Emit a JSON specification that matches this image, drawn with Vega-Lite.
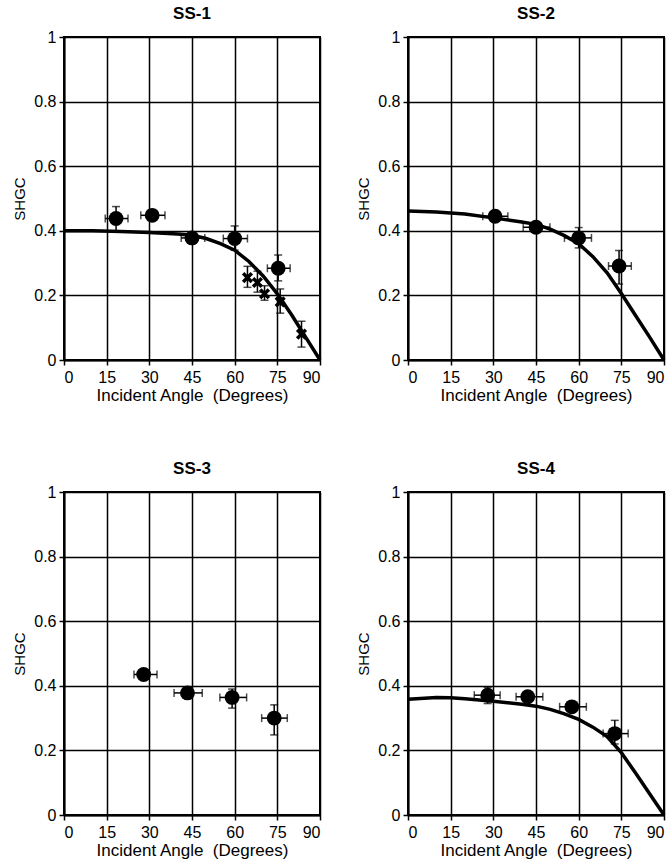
{
  "$schema": "https://vega.github.io/schema/vega-lite/v6.json",
  "background": "white",
  "padding": {"left": 11, "top": 4, "right": 5, "bottom": 5},
  "data": {"values": [
    {"panel":"SS-1","kind":"o","x":18.3,"y":0.438,"xlo":14.5,"xhi":22.5,"ylo":0.40,"yhi":0.475},
    {"panel":"SS-1","kind":"o","x":31,"y":0.448,"xlo":27,"xhi":35.5,"ylo":0.44,"yhi":0.456},
    {"panel":"SS-1","kind":"o","x":45,"y":0.378,"xlo":41.2,"xhi":49.5,"ylo":0.37,"yhi":0.386},
    {"panel":"SS-1","kind":"o","x":60,"y":0.376,"xlo":56,"xhi":64.5,"ylo":0.34,"yhi":0.415},
    {"panel":"SS-1","kind":"o","x":75.3,"y":0.284,"xlo":71.5,"xhi":79.5,"ylo":0.245,"yhi":0.325},
    {"panel":"SS-1","kind":"x","x":64.5,"y":0.255,"ylo":0.225,"yhi":0.29},
    {"panel":"SS-1","kind":"x","x":68,"y":0.24,"ylo":0.21,"yhi":0.275},
    {"panel":"SS-1","kind":"x","x":70.5,"y":0.205,"ylo":0.185,"yhi":0.23},
    {"panel":"SS-1","kind":"x","x":76,"y":0.18,"ylo":0.145,"yhi":0.22},
    {"panel":"SS-1","kind":"x","x":83.5,"y":0.08,"ylo":0.04,"yhi":0.12},
    {"panel":"SS-2","kind":"o","x":30.6,"y":0.445,"xlo":26.3,"xhi":35.1,"ylo":0.435,"yhi":0.455},
    {"panel":"SS-2","kind":"o","x":45,"y":0.411,"xlo":40.5,"xhi":49.9,"ylo":0.40,"yhi":0.425},
    {"panel":"SS-2","kind":"o","x":60,"y":0.378,"xlo":55,"xhi":64.5,"ylo":0.347,"yhi":0.41},
    {"panel":"SS-2","kind":"o","x":74.2,"y":0.291,"xlo":70.5,"xhi":78.5,"ylo":0.235,"yhi":0.339},
    {"panel":"SS-3","kind":"o","x":28,"y":0.435,"xlo":24.6,"xhi":32.7,"ylo":0.425,"yhi":0.445},
    {"panel":"SS-3","kind":"o","x":43.4,"y":0.378,"xlo":38.7,"xhi":48.6,"ylo":0.37,"yhi":0.386},
    {"panel":"SS-3","kind":"o","x":59.1,"y":0.364,"xlo":54.8,"xhi":64.2,"ylo":0.331,"yhi":0.39},
    {"panel":"SS-3","kind":"o","x":73.9,"y":0.30,"xlo":69.5,"xhi":78.5,"ylo":0.248,"yhi":0.341},
    {"panel":"SS-4","kind":"o","x":28,"y":0.371,"xlo":23.3,"xhi":32.4,"ylo":0.345,"yhi":0.395},
    {"panel":"SS-4","kind":"o","x":42.1,"y":0.366,"xlo":38,"xhi":47.4,"ylo":0.355,"yhi":0.377},
    {"panel":"SS-4","kind":"o","x":57.6,"y":0.335,"xlo":53.3,"xhi":62.7,"ylo":0.32,"yhi":0.35},
    {"panel":"SS-4","kind":"o","x":72.7,"y":0.252,"xlo":68.6,"xhi":77.4,"ylo":0.22,"yhi":0.293},
    {"panel":"SS-1","kind":"curve","x":0,"y":0.40},
    {"panel":"SS-1","kind":"curve","x":10,"y":0.40},
    {"panel":"SS-1","kind":"curve","x":20,"y":0.398},
    {"panel":"SS-1","kind":"curve","x":30,"y":0.395},
    {"panel":"SS-1","kind":"curve","x":40,"y":0.39},
    {"panel":"SS-1","kind":"curve","x":45,"y":0.386},
    {"panel":"SS-1","kind":"curve","x":50,"y":0.376},
    {"panel":"SS-1","kind":"curve","x":55,"y":0.36},
    {"panel":"SS-1","kind":"curve","x":60,"y":0.34},
    {"panel":"SS-1","kind":"curve","x":65,"y":0.305},
    {"panel":"SS-1","kind":"curve","x":70,"y":0.26},
    {"panel":"SS-1","kind":"curve","x":75,"y":0.205},
    {"panel":"SS-1","kind":"curve","x":80,"y":0.14},
    {"panel":"SS-1","kind":"curve","x":85,"y":0.07},
    {"panel":"SS-1","kind":"curve","x":90,"y":0},
    {"panel":"SS-2","kind":"curve","x":0,"y":0.461},
    {"panel":"SS-2","kind":"curve","x":10,"y":0.458},
    {"panel":"SS-2","kind":"curve","x":15,"y":0.455},
    {"panel":"SS-2","kind":"curve","x":20,"y":0.452},
    {"panel":"SS-2","kind":"curve","x":30,"y":0.44},
    {"panel":"SS-2","kind":"curve","x":40,"y":0.427},
    {"panel":"SS-2","kind":"curve","x":45,"y":0.42},
    {"panel":"SS-2","kind":"curve","x":50,"y":0.405},
    {"panel":"SS-2","kind":"curve","x":55,"y":0.385},
    {"panel":"SS-2","kind":"curve","x":60,"y":0.36},
    {"panel":"SS-2","kind":"curve","x":65,"y":0.32},
    {"panel":"SS-2","kind":"curve","x":70,"y":0.27},
    {"panel":"SS-2","kind":"curve","x":75,"y":0.206},
    {"panel":"SS-2","kind":"curve","x":80,"y":0.138},
    {"panel":"SS-2","kind":"curve","x":85,"y":0.07},
    {"panel":"SS-2","kind":"curve","x":90,"y":0},
    {"panel":"SS-4","kind":"curve","x":0,"y":0.358},
    {"panel":"SS-4","kind":"curve","x":10,"y":0.364},
    {"panel":"SS-4","kind":"curve","x":15,"y":0.363},
    {"panel":"SS-4","kind":"curve","x":20,"y":0.36},
    {"panel":"SS-4","kind":"curve","x":30,"y":0.352},
    {"panel":"SS-4","kind":"curve","x":40,"y":0.343},
    {"panel":"SS-4","kind":"curve","x":45,"y":0.337},
    {"panel":"SS-4","kind":"curve","x":50,"y":0.327},
    {"panel":"SS-4","kind":"curve","x":55,"y":0.313},
    {"panel":"SS-4","kind":"curve","x":60,"y":0.296},
    {"panel":"SS-4","kind":"curve","x":65,"y":0.272},
    {"panel":"SS-4","kind":"curve","x":70,"y":0.243},
    {"panel":"SS-4","kind":"curve","x":75,"y":0.193},
    {"panel":"SS-4","kind":"curve","x":80,"y":0.13},
    {"panel":"SS-4","kind":"curve","x":85,"y":0.065},
    {"panel":"SS-4","kind":"curve","x":90,"y":0}
  ]},
  "facet": {"field": "panel", "type": "nominal", "title": null,
    "header": {"labelFont": "Liberation Sans", "labelFontSize": 17, "labelFontWeight": "bold", "labelColor": "black", "labelPadding": 6, "title": null}},
  "columns": 2,
  "spacing": {"row": 55, "column": 27},
  "resolve": {"axis": {"x": "independent", "y": "independent"}},
  "spec": {
    "width": 256,
    "height": 323,
    "layer": [
      {
        "transform": [{"filter": "datum.kind == 'curve'"}],
        "mark": {"type": "line", "color": "black", "strokeWidth": 3.5},
        "encoding": {
          "x": {"field": "x", "type": "quantitative", "title": "Incident Angle \u00a0(Degrees)", "scale": {"domain": [0, 90], "nice": false},
                "axis": {"values": [0,15,30,45,60,75,90]}},
          "y": {"field": "y", "type": "quantitative", "title": "SHGC", "scale": {"domain": [0, 1], "nice": false},
                "axis": {"values": [0,0.2,0.4,0.6,0.8,1], "format": "~g"}}
        }
      },
      {
        "transform": [{"filter": "datum.kind == 'o'"}],
        "mark": {"type": "errorbar", "color": "black", "thickness": 1.5, "ticks": {"size": 8, "thickness": 1.5, "color": "black"}},
        "encoding": {
          "x": {"field": "xlo", "type": "quantitative", "title": "Incident Angle \u00a0(Degrees)"},
          "x2": {"field": "xhi"},
          "y": {"field": "y", "type": "quantitative", "title": "SHGC"}
        }
      },
      {
        "transform": [{"filter": "datum.kind == 'o' || datum.kind == 'x'"}],
        "mark": {"type": "errorbar", "color": "black", "thickness": 1.5, "ticks": {"size": 8, "thickness": 1.5, "color": "black"}},
        "encoding": {
          "y": {"field": "ylo", "type": "quantitative", "title": "SHGC"},
          "y2": {"field": "yhi"},
          "x": {"field": "x", "type": "quantitative", "title": "Incident Angle \u00a0(Degrees)"}
        }
      },
      {
        "transform": [{"filter": "datum.kind == 'o'"}],
        "mark": {"type": "circle", "color": "black", "opacity": 1, "size": 220},
        "encoding": {
          "x": {"field": "x", "type": "quantitative", "title": "Incident Angle \u00a0(Degrees)"},
          "y": {"field": "y", "type": "quantitative", "title": "SHGC"}
        }
      },
      {
        "transform": [{"filter": "datum.kind == 'x'"}],
        "mark": {"type": "point", "shape": "M-0.5,-0.5L0.5,0.5M-0.5,0.5L0.5,-0.5", "filled": false, "color": "black", "opacity": 1, "strokeWidth": 3.5, "size": 300},
        "encoding": {
          "x": {"field": "x", "type": "quantitative", "title": "Incident Angle \u00a0(Degrees)"},
          "y": {"field": "y", "type": "quantitative", "title": "SHGC"}
        }
      }
    ]
  },
  "config": {
    "view": {"stroke": "black", "strokeWidth": 2},
    "axis": {
      "domainColor": "black", "domainWidth": 2,
      "grid": true, "gridColor": "black", "gridWidth": 1.5, "gridOpacity": 1,
      "tickColor": "black", "tickWidth": 1.5, "tickSize": 5,
      "labelFont": "Liberation Sans", "labelFontSize": 16, "labelColor": "black", "labelPadding": 3,
      "titleFont": "Liberation Sans", "titleFontWeight": "normal", "titleColor": "black"
    },
    "axisX": {"titleFontSize": 17, "titlePadding": 2, "labelPadding": 4},
    "axisY": {"titleFontSize": 15, "titlePadding": 6}
  }
}
